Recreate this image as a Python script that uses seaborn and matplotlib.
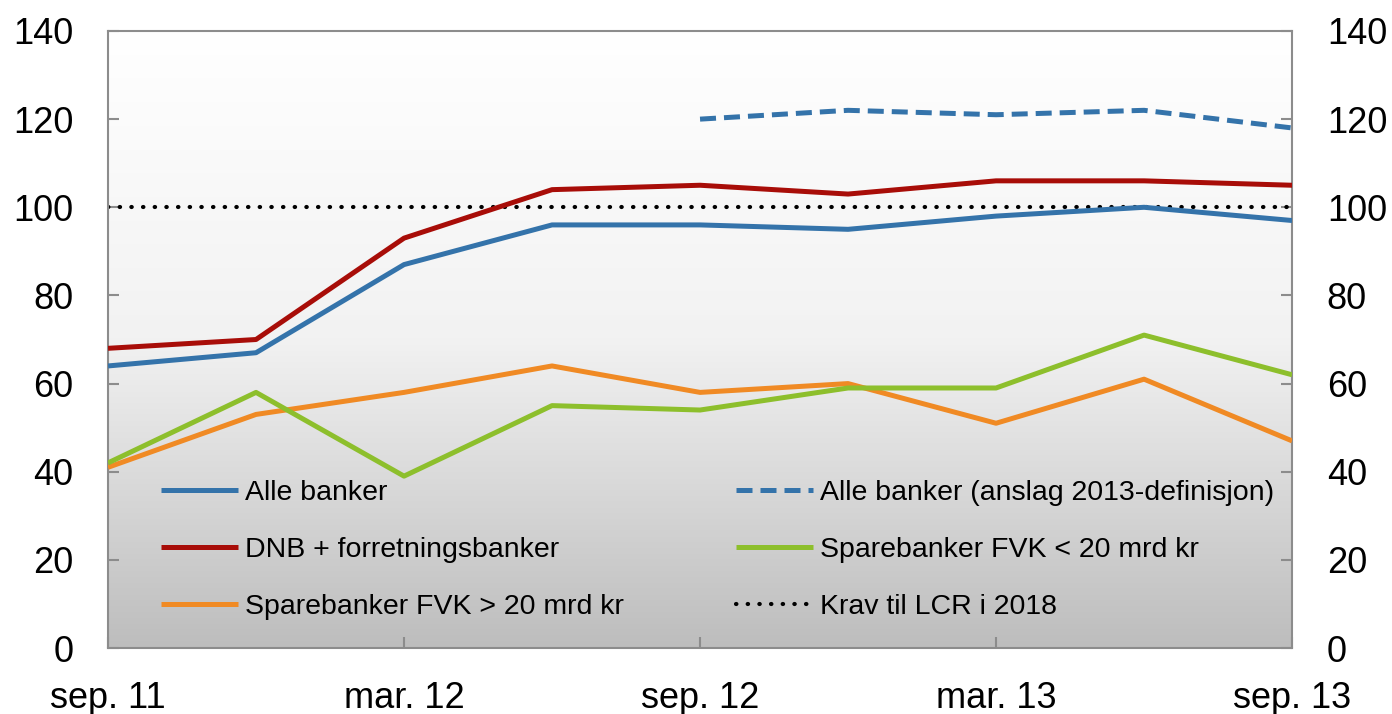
import numpy as np
import pandas as pd
import matplotlib
matplotlib.use("Agg")
import matplotlib.pyplot as plt
import seaborn as sns
from matplotlib.colors import LinearSegmentedColormap

# --- DATA ---
quarters = ["sep. 11", "des. 11", "mar. 12", "jun. 12", "sep. 12",
            "des. 12", "mar. 13", "jun. 13", "sep. 13"]
alle_banker = [64, 67, 87, 96, 96, 95, 98, 100, 97]
dnb_forretning = [68, 70, 93, 104, 105, 103, 106, 106, 105]
spare_over20 = [41, 53, 58, 64, 58, 60, 51, 61, 47]
alle_anslag = [np.nan, np.nan, np.nan, np.nan, 120, 122, 121, 122, 118]
spare_under20 = [42, 58, 39, 55, 54, 59, 59, 71, 62]
krav_lcr = [100] * 9

tick_labels = ["sep. 11", "mar. 12", "sep. 12", "mar. 13", "sep. 13"]

# --- STYLE ---
sns.set_style("white")
plt.rcParams["font.family"] = ["Liberation Sans Narrow", "Liberation Sans", "DejaVu Sans"]
plt.rcParams["text.color"] = "black"

fig = plt.figure(figsize=(13.92, 7.14), dpi=100)
ax = fig.add_axes([0.0776, 0.0924, 0.8506, 0.8642])

# gradient background
cmap = LinearSegmentedColormap.from_list("bg", ["#ffffff", "#f2f2f2", "#bdbdbd"])
grad = np.linspace(0, 1, 256).reshape(-1, 1)
ax.imshow(grad, cmap=cmap, extent=[0, 1, 0, 1], transform=ax.transAxes,
          aspect="auto", origin="upper", zorder=0)

x = np.arange(len(quarters))
series = [
    ("Alle banker", alle_banker, "#3473aa", "-"),
    ("DNB + forretningsbanker", dnb_forretning, "#a80d08", "-"),
    ("Sparebanker FVK > 20 mrd kr", spare_over20, "#f08a24", "-"),
    ("Alle banker (anslag 2013-definisjon)", alle_anslag, "#3473aa", (0, (3.2, 1.6))),
    ("Sparebanker FVK < 20 mrd kr", spare_under20, "#8dbf2c", "-"),
]
for name, vals, col, ls in series:
    sns.lineplot(x=x, y=vals, ax=ax, color=col, linestyle=ls, linewidth=3.6,
                 label=name, zorder=3, solid_capstyle="butt")
sns.lineplot(x=x, y=krav_lcr, ax=ax, color="black", linestyle=(0, (0.1, 2.7)),
             linewidth=3.0, dash_capstyle="round", label="Krav til LCR i 2018", zorder=2)

ax.set_xlim(0, len(quarters) - 1)
ax.set_ylim(0, 140)
ax.set_yticks(range(0, 141, 20))
ax.set_xticks([quarters.index(t) for t in tick_labels])
ax.set_xticklabels(tick_labels)
ax.set_xlabel("")
ax.set_ylabel("")

for s in ax.spines.values():
    s.set_visible(True)
    s.set_color("#8c8c8c")
    s.set_linewidth(1.5)
ax.tick_params(axis="both", direction="in", length=8, width=1.5, color="#8c8c8c",
               labelsize=26, labelcolor="black")
ax.tick_params(axis="y", left=True, right=True, labelleft=True, labelright=True, pad=25)
ax.tick_params(axis="x", bottom=True, top=False, pad=24)

leg = ax.legend(loc="lower left", bbox_to_anchor=(0.045, 0.045, 0.94, 0.3), mode="expand",
                ncol=2, frameon=False, fontsize=20.5, handlelength=2.7, handletextpad=0.25,
                labelspacing=1.1, borderpad=0, borderaxespad=0)
for t in leg.get_texts():
    t.set_color("black")

plt.savefig("out.png", dpi=100)
